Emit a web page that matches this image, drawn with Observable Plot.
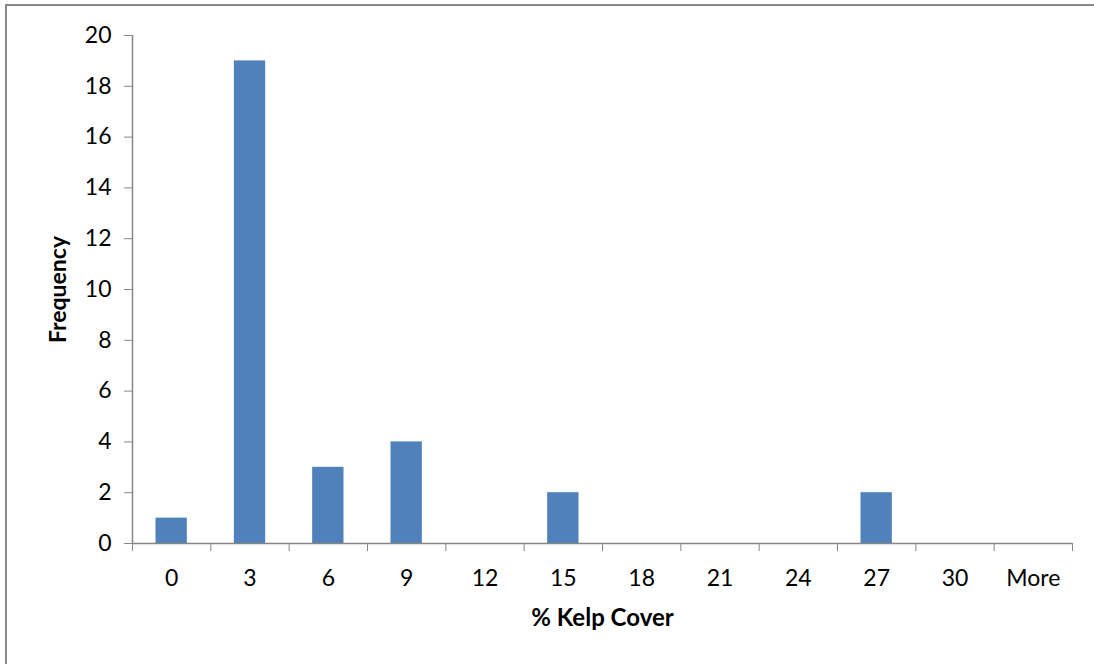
<!DOCTYPE html>
<html>
<head>
<meta charset="utf-8">
<script src="https://cdn.jsdelivr.net/npm/d3@7"></script>
<script src="https://cdn.jsdelivr.net/npm/@observablehq/plot@0.6"></script>
<style>
  html, body { margin: 0; padding: 0; background: #fff; overflow: hidden; }
  #wrap { position: relative; width: 1094px; height: 664px; }
  #border { position: absolute; left: 5px; top: 4px; width: 1200px; height: 800px;
            border-left: 2px solid #878787; border-top: 2px solid #878787; box-sizing: border-box; }
  #chart { position: absolute; left: 0; top: 0; }
</style>
</head>
<body>
<div id="wrap"><div id="border"></div><div id="chart"></div></div>
<script>
const categories = ["0", "3", "6", "9", "12", "15", "18", "21", "24", "27", "30", "More"];
const frequency = [1, 19, 3, 4, 0, 2, 0, 0, 0, 2, 0, 0];
const yTicks = [0, 2, 4, 6, 8, 10, 12, 14, 16, 18, 20];
const xTitle = "% Kelp Cover";
const yTitle = "Frequency";

const data = categories.map((c, i) => ({ i, c, f: frequency[i] }));
const boundaries = d3.range(categories.length + 1);
const centers = d3.range(categories.length).map(i => i + 0.5);
const font = "Lato, 'Open Sans', sans-serif";
const gray = "#868686";

const chart = Plot.plot({
  width: 1094,
  height: 664,
  marginLeft: 132,
  marginRight: 22,
  marginTop: 35,
  marginBottom: 121,
  style: { fontFamily: font, fontSize: "23px", color: "#000", background: "transparent" },
  x: { type: "linear", domain: [0, categories.length] },
  y: { domain: [0, 20] },
  marks: [
    Plot.rectY(data, { x1: d => d.i + 0.3, x2: d => d.i + 0.7, y1: 0, y2: "f", fill: "#4F81BD" }),
    Plot.ruleY([0], { stroke: gray, strokeWidth: 1.5 }),
    Plot.ruleX([0], { y1: 0, y2: 20, stroke: gray, strokeWidth: 1.5 }),
    Plot.axisY({ ticks: yTicks, tickSize: 8, tickPadding: 13, stroke: gray, strokeOpacity: 1, label: null, fontSize: 23, tickFormat: d => String(d) }),
    Plot.axisX({ ticks: boundaries, tickSize: 8, stroke: gray, strokeOpacity: 1, tickFormat: () => "", label: null }),
    Plot.axisX({ ticks: centers, tickSize: 0, tickPadding: 26, fontSize: 23, tickFormat: d => categories[Math.floor(d)], label: null }),
    Plot.text([xTitle], { text: d => d, frameAnchor: "bottom", textAnchor: "middle", lineAnchor: "middle", dy: 75, fontWeight: "bold", fontSize: 24 }),
    Plot.text([yTitle], { text: d => d, frameAnchor: "left", textAnchor: "middle", dx: -74, rotate: -90, fontWeight: "bold", fontSize: 23 })
  ]
});
document.getElementById("chart").appendChild(chart);
</script>
</body>
</html>
